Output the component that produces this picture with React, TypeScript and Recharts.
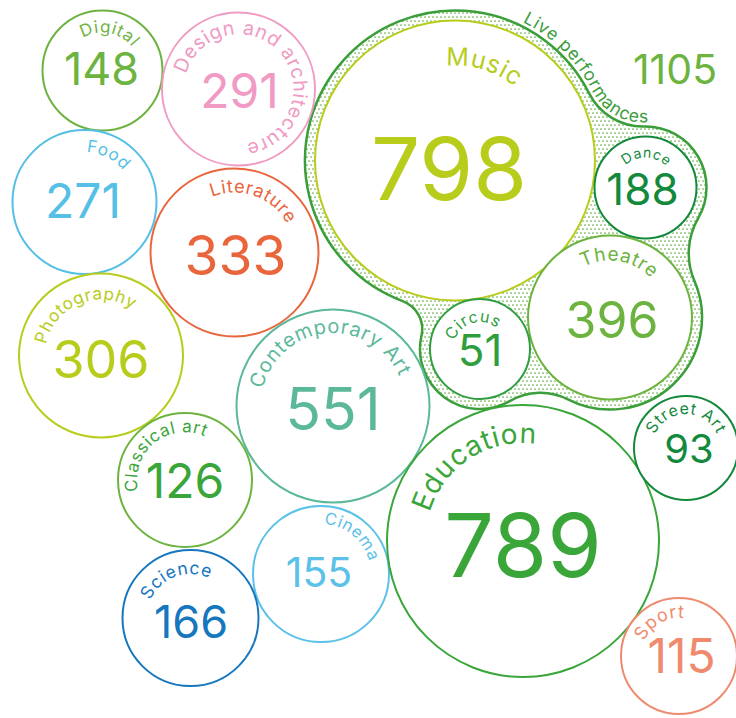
import React from 'react';
import { ScatterChart, Scatter, XAxis, YAxis } from 'recharts';

const CHART_W = 736;
const CHART_H = 718;
const FONT = 'Inter, "Noto Sans", sans-serif';

// standalone categories and their counts
const categories = [
  'Digital',
  'Design and architecture',
  'Food',
  'Literature',
  'Photography',
  'Contemporary Art',
  'Classical art',
  'Cinema',
  'Science',
  'Education',
  'Street Art',
  'Sport',
];
const values = [148, 291, 271, 333, 306, 551, 126, 155, 166, 789, 93, 115];

// the "Live performances" group
const liveLabel = 'Live performances';
const liveTotal = 1105;
const liveCategories = ['Music', 'Dance', 'Theatre', 'Circus'];
const liveValues = [798, 188, 396, 51];

// packed layout (axis units)
const bubbleX = [102.5, 238.5, 84.5, 234.5, 101, 333, 185, 321, 190.5, 523, 686, 679];
const bubbleY = [70.5, 89, 202, 252.5, 355.5, 406, 480, 574, 618, 541, 448, 656];
const bubbleR = [60, 76.5, 72, 84, 82, 96.5, 67, 68, 68, 136, 52, 58];
const liveX = [455, 645.5, 610, 480];
const liveY = [160.5, 187.5, 317.5, 349];
const liveR = [140, 51, 82, 50];
const liveTotalPos = { x: 675, y: 69 };

const X_MAX = 736;
const K = CHART_W / X_MAX;
const PAD = 10;
const FILLETS = [60, 70, 60, 30];

type Style = {
  stroke: string;
  text?: string;
  angle: number;
  labelR: number;
  labelSize: number;
  numSize: number;
  dx: number;
  dy: number;
};

const styles: Record<string, Style> = {
  Digital: { stroke: '#6db33f', angle: -79, labelR: 38, labelSize: 17, numSize: 45, dx: -1, dy: -2 },
  'Design and architecture': { stroke: '#f09ac4', angle: -41, labelR: 55, labelSize: 19.5, numSize: 48, dx: 1, dy: 1.5 },
  Food: { stroke: '#55bfe6', angle: -63, labelR: 50, labelSize: 17, numSize: 48, dx: -1.5, dy: -1.5 },
  Literature: { stroke: '#e9653b', angle: -70, labelR: 60, labelSize: 18, numSize: 55, dx: 1, dy: 2.5 },
  Photography: { stroke: '#b8cc1c', angle: -112, labelR: 56, labelSize: 17, numSize: 52, dx: 0, dy: 3.5 },
  'Contemporary Art': { stroke: '#5cb89b', angle: -95, labelR: 73, labelSize: 20, numSize: 59, dx: 0, dy: 2.5 },
  'Classical art': { stroke: '#6db33f', text: '#3aa63a', angle: -129, labelR: 48, labelSize: 17, numSize: 48, dx: 0, dy: 0.5 },
  Cinema: { stroke: '#5cc1e8', angle: -50, labelR: 50, labelSize: 16.5, numSize: 41, dx: -2, dy: -2 },
  Science: { stroke: '#1677bf', angle: -110, labelR: 44, labelSize: 17.5, numSize: 45, dx: 0.5, dy: 3.5 },
  Education: { stroke: '#3aa63a', angle: -123, labelR: 98, labelSize: 28, numSize: 88, dx: 0, dy: 4 },
  'Street Art': { stroke: '#13893c', angle: -90, labelR: 34, labelSize: 16, numSize: 40, dx: 3, dy: 0.5 },
  Sport: { stroke: '#ef8a6e', angle: -120, labelR: 38, labelSize: 18, numSize: 48, dx: 2.5, dy: -0.5 },
  Music: { stroke: '#b8cc1c', angle: -73, labelR: 95, labelSize: 25, numSize: 87, dx: -6, dy: 8 },
  Dance: { stroke: '#13893c', angle: -88, labelR: 30, labelSize: 14, numSize: 44, dx: -3, dy: 1.5 },
  Theatre: { stroke: '#6db33f', angle: -80, labelR: 57, labelSize: 19, numSize: 50, dx: 2, dy: 2.5 },
  Circus: { stroke: '#2e9e3e', angle: -106, labelR: 27, labelSize: 16, numSize: 44, dx: 0, dy: 1 },
};

const BLOB_COLOR = '#3a9e3a';

const bubbles = categories.map((name, i) => ({
  name,
  value: values[i],
  x: bubbleX[i],
  y: bubbleY[i],
  r: bubbleR[i],
}));

const liveBubbles = liveCategories.map((name, i) => ({
  name,
  value: liveValues[i],
  x: liveX[i],
  y: liveY[i],
  r: liveR[i],
}));

// one anchor point for the group outline (the Music bubble)
const liveGroup = [{ name: liveLabel, value: liveTotal, x: liveX[0], y: liveY[0] }];

const RAD = Math.PI / 180;
const polar = (cx: number, cy: number, r: number, deg: number) => [
  cx + r * Math.cos(deg * RAD),
  cy + r * Math.sin(deg * RAD),
];
const fmt = (p: number[]) => `${p[0].toFixed(2)},${p[1].toFixed(2)}`;
const norm = (a: number) => {
  let v = a;
  while (v < 0) v += Math.PI * 2;
  while (v >= Math.PI * 2) v -= Math.PI * 2;
  return v;
};

function labelArc(cx: number, cy: number, r: number, mid: number) {
  const p0 = polar(cx, cy, r, mid - 179.9);
  const p1 = polar(cx, cy, r, mid);
  const p2 = polar(cx, cy, r, mid + 179.9);
  return `M${fmt(p0)} A${r},${r} 0 0 1 ${fmt(p1)} A${r},${r} 0 0 1 ${fmt(p2)}`;
}

const Bubble = (props: any) => {
  const { cx, cy, payload } = props;
  if (cx == null || cy == null) return null;
  const s = styles[payload.name];
  const r = payload.r * K;
  const id = 'arc-' + payload.name.replace(/\s+/g, '-');
  const txt = s.text || s.stroke;
  return (
    <g>
      <circle cx={cx} cy={cy} r={r} fill="#fff" stroke={s.stroke} strokeWidth={2} />
      <path id={id} d={labelArc(cx, cy, s.labelR * K, s.angle)} fill="none" />
      <text fill={txt} fontSize={s.labelSize} fontFamily={FONT} letterSpacing={0.7} textAnchor="middle">
        <textPath href={`#${id}`} startOffset="50%">
          {payload.name}
        </textPath>
      </text>
      <text
        x={cx + s.dx}
        y={cy + s.dy + s.numSize * 0.364}
        textAnchor="middle"
        fill={txt}
        fontSize={s.numSize}
        fontFamily={FONT}
      >
        {payload.value}
      </text>
    </g>
  );
};

// outline around the live-performance bubbles: offset circles joined by concave fillets
const LiveOutline = (props: any) => {
  const { cx, cy, payload } = props;
  if (cx == null || cy == null) return null;
  const circles = liveBubbles.map((b) => ({
    x: cx + (b.x - payload.x) * K,
    y: cy + (b.y - payload.y) * K,
    R: (b.r + PAD) * K,
  }));
  const n = circles.length;
  const fl = circles.map((A, i) => {
    const B = circles[(i + 1) % n];
    const f = FILLETS[i] * K;
    const dx = B.x - A.x;
    const dy = B.y - A.y;
    const d = Math.hypot(dx, dy);
    const ra = A.R + f;
    const rb = B.R + f;
    const a = (ra * ra - rb * rb + d * d) / (2 * d);
    const h = Math.sqrt(Math.max(0, ra * ra - a * a));
    const ux = dx / d;
    const uy = dy / d;
    const px = A.x + a * ux;
    const py = A.y + a * uy;
    const fx = px + h * uy;
    const fy = py - h * ux;
    return {
      fx,
      fy,
      f,
      ta: [A.x + ((fx - A.x) * A.R) / ra, A.y + ((fy - A.y) * A.R) / ra],
      tb: [B.x + ((fx - B.x) * B.R) / rb, B.y + ((fy - B.y) * B.R) / rb],
    };
  });

  let d = `M${fmt(fl[n - 1].tb)}`;
  for (let i = 0; i < n; i++) {
    const C = circles[i];
    const from = fl[(i - 1 + n) % n].tb;
    const to = fl[i].ta;
    const a0 = Math.atan2(from[1] - C.y, from[0] - C.x);
    const a1 = Math.atan2(to[1] - C.y, to[0] - C.x);
    const delta = norm(a1 - a0);
    d += ` A${C.R},${C.R} 0 ${delta > Math.PI ? 1 : 0} 1 ${fmt(to)}`;
    const F = fl[i];
    const b0 = Math.atan2(F.ta[1] - F.fy, F.ta[0] - F.fx);
    const b1 = Math.atan2(F.tb[1] - F.fy, F.tb[0] - F.fx);
    const dl = norm(b0 - b1);
    d += ` A${F.f},${F.f} 0 ${dl > Math.PI ? 1 : 0} 0 ${fmt(F.tb)}`;
  }
  d += ' Z';

  // path for the group label, a few px outside the outline
  const M = circles[0];
  const D = circles[1];
  const F0 = fl[0];
  const off = 4;
  const mStart = polar(M.x, M.y, M.R + off, -64);
  const angMF = Math.atan2(F0.fy - M.y, F0.fx - M.x) / RAD;
  const mEnd = polar(M.x, M.y, M.R + off, angMF);
  const angFD = Math.atan2(D.y - F0.fy, D.x - F0.fx) / RAD;
  const fEnd = polar(F0.fx, F0.fy, F0.f - off, angFD);
  const dEnd = polar(D.x, D.y, D.R + off, 0);
  const textPath =
    `M${fmt(mStart)} A${M.R + off},${M.R + off} 0 0 1 ${fmt(mEnd)}` +
    ` A${F0.f - off},${F0.f - off} 0 0 0 ${fmt(fEnd)}` +
    ` A${D.R + off},${D.R + off} 0 0 1 ${fmt(dEnd)}`;

  const tx = cx + (liveTotalPos.x - payload.x) * K;
  const ty = cy + (liveTotalPos.y - payload.y) * K;

  return (
    <g>
      <defs>
        <pattern id="live-dots" width={4} height={8} patternUnits="userSpaceOnUse">
          <circle cx={1} cy={1} r={0.85} fill="#5faa3c" />
          <circle cx={3} cy={5} r={0.85} fill="#5faa3c" />
        </pattern>
      </defs>
      <path d={d} fill="url(#live-dots)" stroke={BLOB_COLOR} strokeWidth={2.5} />
      <path id="live-label-path" d={textPath} fill="none" />
      <text fill={BLOB_COLOR} fontSize={17.5} fontFamily={FONT} letterSpacing={0.8}>
        <textPath href="#live-label-path" startOffset="0">
          {payload.name}
        </textPath>
      </text>
      <text x={tx} y={ty + 41 * 0.364} textAnchor="middle" fill="#6db33f" fontSize={41} fontFamily={FONT}>
        {payload.value}
      </text>
    </g>
  );
};

export default function App() {
  return (
    <div style={{ position: 'absolute', left: 0, top: 0, width: CHART_W, height: CHART_H, background: '#fff' }}>
      <ScatterChart width={CHART_W} height={CHART_H} margin={{ top: 0, right: 0, bottom: 0, left: 0 }}>
        <XAxis type="number" dataKey="x" domain={[0, X_MAX]} hide />
        <YAxis type="number" dataKey="y" domain={[0, 718]} reversed hide />
        <Scatter data={liveGroup} shape={LiveOutline} isAnimationActive={false} />
        <Scatter data={liveBubbles} shape={Bubble} isAnimationActive={false} />
        <Scatter data={bubbles} shape={Bubble} isAnimationActive={false} />
      </ScatterChart>
    </div>
  );
}
